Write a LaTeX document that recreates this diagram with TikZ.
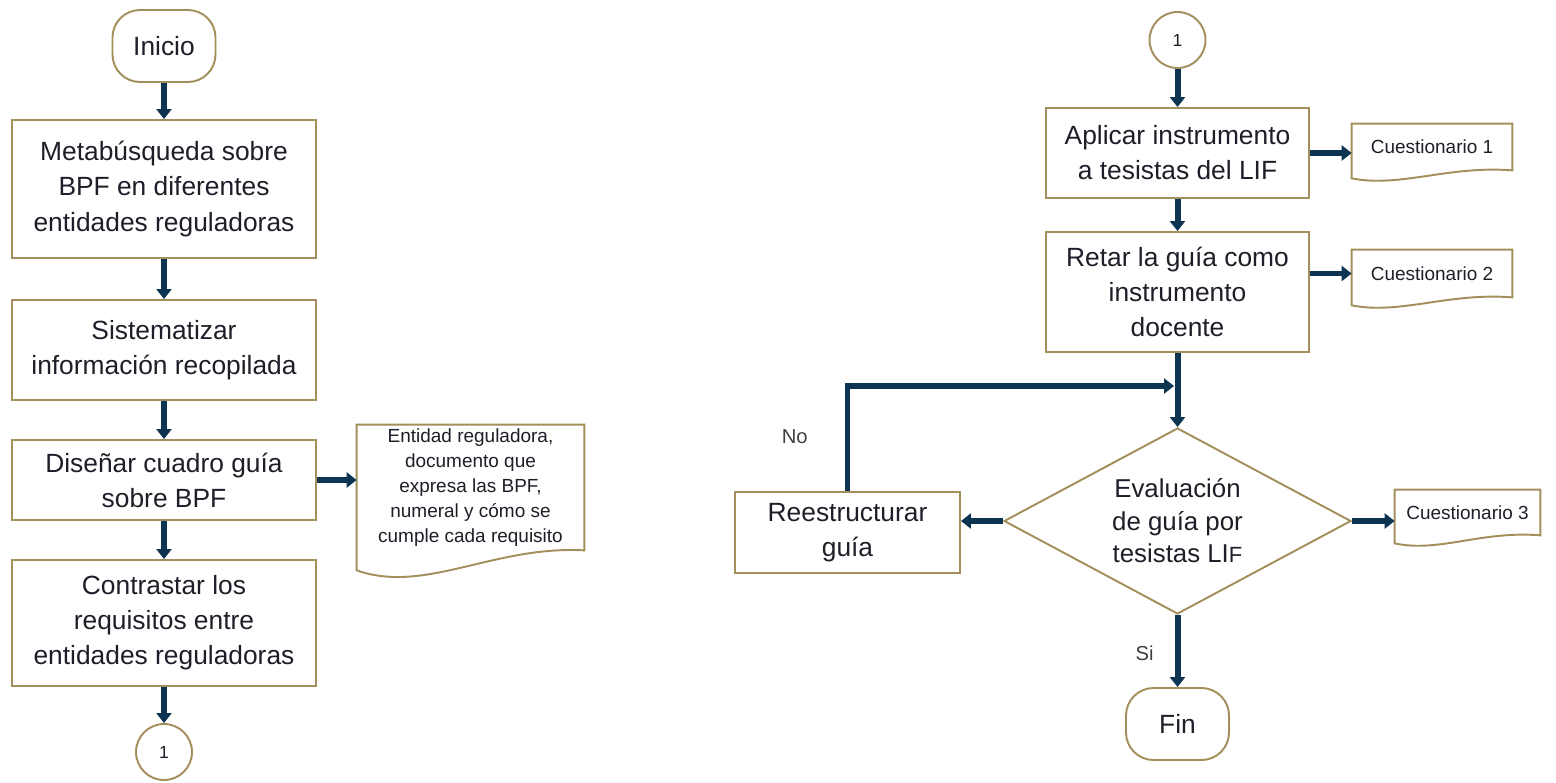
\documentclass[tikz,border=0pt]{standalone}
\usepackage{fontspec}
\setmainfont{Liberation Sans}
\usetikzlibrary{arrows.meta,shapes.geometric,calc}
\definecolor{boxline}{RGB}{163,143,91}
\definecolor{flowline}{RGB}{13,53,82}
\definecolor{inktext}{RGB}{30,30,40}

\begin{document}
\begin{tikzpicture}[>={Triangle[length=0.2cm,width=0.3cm]},
        every node/.style={text=inktext},
        box node/.style={rectangle,draw=boxline,line width=1.1pt,align=center,
          font=\fontsize{15}{20}\selectfont},
        term node/.style={rectangle,rounded corners=0.55cm,draw=boxline,line width=1.1pt,
          minimum width=2.06cm,minimum height=1.44cm,font=\fontsize{15}{18}\selectfont},
        conn node/.style={circle,draw=boxline,line width=1.1pt,minimum size=1.12cm,
          inner sep=0pt,font=\fontsize{10}{12}\selectfont},
        decision node/.style={diamond,draw=boxline,line width=1.1pt,aspect=1.87,inner sep=0pt,
          minimum width=6.94cm,minimum height=3.72cm,align=center,font=\fontsize{14.7}{18.5}\selectfont},
        doc node/.style={rectangle,inner sep=1pt,align=center,font=\fontsize{10.8}{14.2}\selectfont},
        doc line/.style={draw=boxline,line width=1.1pt},
        flow/.style={->,draw=flowline,line width=3.4pt},
        tag/.style={font=\fontsize{11.5}{13}\selectfont,text=black!75}]
        \useasboundingbox (0,0) rectangle (31.12,-15.64);

        % left column
        \node[term node] (inicio) at (3.28,-0.92) {Inicio};
        \node[box node,minimum width=6.08cm,minimum height=2.76cm] (meta) at (3.28,-3.78)
          {Metabúsqueda sobre\\BPF en diferentes\\entidades reguladoras};
        \node[box node,minimum width=6.08cm,minimum height=2.00cm] (sist) at (3.28,-7.00)
          {Sistematizar\\información recopilada};
        \node[box node,minimum width=6.08cm,minimum height=1.60cm] (disenar) at (3.28,-9.60)
          {Diseñar cuadro guía\\sobre BPF};
        \node[box node,minimum width=6.08cm,minimum height=2.52cm] (contrastar) at (3.28,-12.46)
          {Contrastar los\\requisitos entre\\entidades reguladoras};
        \node[conn node] (salto a) at (3.28,-15.04) {1};
        \node[doc node,minimum width=4.54cm,minimum height=2.50cm] (regdoc) at (9.41,-9.75)
          {Entidad reguladora,\\documento que\\expresa las BPF,\\numeral y cómo se\\cumple cada requisito};

        % right column
        \node[conn node] (salto b) at (23.55,-0.80) {1};
        \node[box node,minimum width=5.26cm,minimum height=1.80cm] (aplicar) at (23.55,-3.06)
          {Aplicar instrumento\\a tesistas del LIF};
        \node[box node,minimum width=5.26cm,minimum height=2.40cm] (retar) at (23.55,-5.84)
          {Retar la guía como\\instrumento\\docente};
        \node[decision node] (evaluar) at (23.55,-10.42)
          {Evaluación\\de guía por\\tesistas LI{\fontsize{12.5}{14}\selectfont F}};
        \node[box node,minimum width=4.50cm,minimum height=1.62cm] (reest) at (16.95,-10.65)
          {Reestructurar\\guía};
        \node[term node] (fin) at (23.55,-14.48) {Fin};
        \node[doc node,minimum width=3.20cm,minimum height=0.92cm] (cues1) at (28.64,-2.94)
          {Cuestionario 1};
        \node[doc node,minimum width=3.20cm,minimum height=0.94cm] (cues2) at (28.64,-5.47)
          {Cuestionario 2};
        \node[doc node,minimum width=2.90cm,minimum height=0.90cm] (cues3) at (29.35,-10.25)
          {Cuestionario 3};
        \coordinate (merge) at (23.48,-7.72);

        % document outlines with wavy bottom
        \foreach \d/\a in {regdoc/0.4,cues1/0.16,cues2/0.16,cues3/0.16}
          \draw[doc line] (\d.north west) -- (\d.north east) -- (\d.south east)
            .. controls ($(\d.south east)!0.4!(\d.south west)+(0,0.1)$)
            and ($(\d.south east)!0.7!(\d.south west)-(0,2.2*\a)$)
            .. ($(\d.south west)-(0,\a)$) -- cycle;

        % connectors
        \draw[flow] (inicio) -- (meta);
        \draw[flow] (meta) -- (sist);
        \draw[flow] (sist) -- (disenar);
        \draw[flow] (disenar) -- (contrastar);
        \draw[flow] (contrastar) -- (salto a);
        \draw[flow] (disenar.east) -- (disenar.east -| regdoc.west);
        \draw[flow] (salto b) -- (aplicar);
        \draw[flow] (aplicar) -- (retar);
        \draw[flow] (retar) -- (evaluar);
        \draw[flow] (aplicar.east) -- (aplicar.east -| cues1.west);
        \draw[flow] (retar.east |- cues2.west) -- (cues2.west);
        \draw[flow] (evaluar.east) -- (evaluar.east -| cues3.west);
        \draw[flow] (evaluar.west) -- (evaluar.west -| reest.east);
        \draw[flow] (reest.north) |- node[tag,pos=0.26,left=0.62cm] (no) {No} (merge);
        \draw[flow] (evaluar.south) -- node[tag,pos=0.53,left=0.3cm] (si) {Si} (fin.north);
\end{tikzpicture}
\end{document}
